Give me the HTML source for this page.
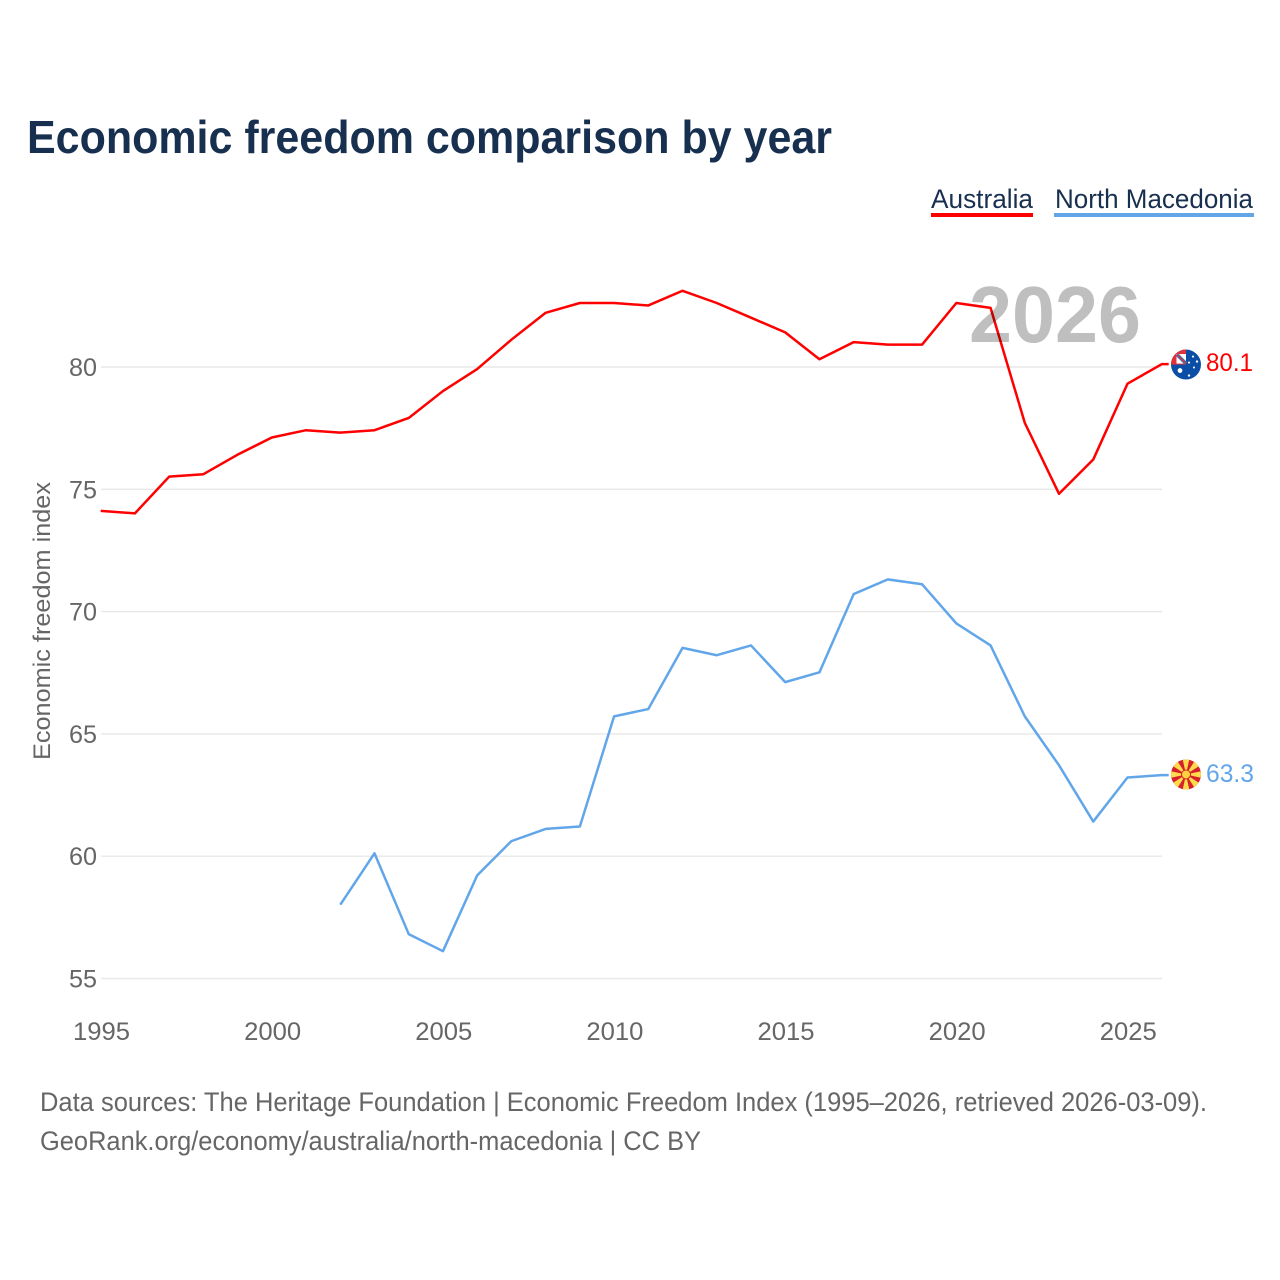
<!DOCTYPE html>
<html lang="en">
<head>
<meta charset="utf-8">
<title>Economic freedom comparison by year</title>
<style>
html,body{margin:0;padding:0;background:#fff;}
svg{display:block;font-family:"Liberation Sans",Arial,sans-serif;}
</style>
</head>
<body>
<svg id="chart" width="1280" height="1280" viewBox="0 0 1280 1280" xmlns="http://www.w3.org/2000/svg">
<defs>
<clipPath id="flag-clip-au"><circle cx="0" cy="0" r="15"/></clipPath>
<clipPath id="flag-clip-mk"><circle cx="0" cy="0" r="15"/></clipPath>
</defs>
<rect width="1280" height="1280" fill="#fff"/>
<text x="27" y="153" font-size="46" font-weight="700" fill="#18304f" textLength="805" lengthAdjust="spacingAndGlyphs">Economic freedom comparison by year</text>
<g id="grid"></g>
<g id="yticks"></g>
<g id="xticks"></g>
<text transform="translate(50,760) rotate(-90)" font-size="24" fill="#666" textLength="278" lengthAdjust="spacingAndGlyphs">Economic freedom index</text>
<g id="series"></g>
<text x="969" y="342" font-size="80" font-weight="700" fill="#000" fill-opacity="0.25" textLength="172" lengthAdjust="spacingAndGlyphs">2026</text>
<g>
<text x="931" y="208" font-size="27" fill="#18304f" textLength="102" lengthAdjust="spacingAndGlyphs">Australia</text>
<rect x="931" y="213" width="102" height="4" fill="#ff0000"/>
</g>
<g>
<text x="1055" y="208" font-size="27" fill="#18304f" textLength="198" lengthAdjust="spacingAndGlyphs">North Macedonia</text>
<rect x="1054" y="213" width="200" height="4" fill="#62a6ea"/>
</g>
<g id="flag-au" clip-path="url(#flag-clip-au)">
<rect x="-15" y="-15" width="30" height="30" fill="#0a4ea6"/>
<rect x="-15" y="-15" width="15" height="15" fill="#e0303a"/>
<rect x="-9.5" y="-10.5" width="9.5" height="9.5" fill="#fff"/>
<path d="M-9,-10L0,-1" stroke="#3f6fb5" stroke-width="3.5"/>
<path d="M-9,-10L0,-1" stroke="#e0303a" stroke-width="1.2"/>
<circle cx="-6" cy="6" r="2.4" fill="#fff"/>
<circle cx="3" cy="-2" r="1.1" fill="#fff"/>
<circle cx="11" cy="-3" r="1.2" fill="#fff"/>
<circle cx="8" cy="3" r="1" fill="#fff"/>
<circle cx="3" cy="11" r="1.2" fill="#fff"/>
<circle cx="7" cy="-8" r="1.1" fill="#fff"/>
</g>
<g id="flag-mk" clip-path="url(#flag-clip-mk)">
<rect x="-15" y="-15" width="30" height="30" fill="#d6202a"/>
<path d="M-3.5,-16H3.5L0,0ZM-3.5,16H3.5L0,0ZM-16,-3.5V3.5L0,0ZM16,-3.5V3.5L0,0Z" fill="#ffdb4d"/>
<path d="M-14,-9L-9,-14L0,0ZM14,9L9,14L0,0ZM14,-9L9,-14L0,0ZM-14,9L-9,14L0,0Z" fill="#ffdb4d"/>
<circle cx="0" cy="0" r="5" fill="#d6202a"/>
<circle cx="0" cy="0" r="4" fill="#ffd23f"/>
</g>
<text id="val-au" x="1206" y="371" font-size="25" fill="#ff0000" textLength="47" lengthAdjust="spacingAndGlyphs"></text>
<text id="val-mk" x="1206" y="782" font-size="25" fill="#62a6ea" textLength="48" lengthAdjust="spacingAndGlyphs"></text>
<text x="40" y="1111" font-size="27" fill="#666" textLength="1167" lengthAdjust="spacingAndGlyphs">Data sources: The Heritage Foundation | Economic Freedom Index (1995–2026, retrieved 2026-03-09).</text>
<text x="40" y="1150" font-size="27" fill="#666" textLength="661" lengthAdjust="spacingAndGlyphs">GeoRank.org/economy/australia/north-macedonia | CC BY</text>
</svg>
<script>
const auYears = [1995,1996,1997,1998,1999,2000,2001,2002,2003,2004,2005,2006,2007,2008,2009,2010,2011,2012,2013,2014,2015,2016,2017,2018,2019,2020,2021,2022,2023,2024,2025,2026];
const auValues = [74.1,74.0,75.5,75.6,76.4,77.1,77.4,77.3,77.4,77.9,79.0,79.9,81.1,82.2,82.6,82.6,82.5,83.1,82.6,82.0,81.4,80.3,81.0,80.9,80.9,82.6,82.4,77.7,74.8,76.2,79.3,80.1];
const mkYears = [2002,2003,2004,2005,2006,2007,2008,2009,2010,2011,2012,2013,2014,2015,2016,2017,2018,2019,2020,2021,2022,2023,2024,2025,2026];
const mkValues = [58.0,60.1,56.8,56.1,59.2,60.6,61.1,61.2,65.7,66.0,68.5,68.2,68.6,67.1,67.5,70.7,71.3,71.1,69.5,68.6,65.7,63.7,61.4,63.2,63.3];
const yTickValues = [55,60,65,70,75,80];
const xTickValues = [1995,2000,2005,2010,2015,2020,2025];

const SVGNS = 'http://www.w3.org/2000/svg';
function xScale(year){ return 100.7 + (year - 1995) * (1161.7 - 100.7) / 31; }
function yScale(value){ return 366.6 + (80 - value) * 24.46; }
function make(tag, parent, attrs){
  const el = document.createElementNS(SVGNS, tag);
  for (const k in attrs) el.setAttribute(k, attrs[k]);
  parent.appendChild(el);
  return el;
}
const grid = document.getElementById('grid');
const yticks = document.getElementById('yticks');
const xticks = document.getElementById('xticks');
const series = document.getElementById('series');

yTickValues.forEach(function(v){
  const line = make('line', grid, {x1:101, x2:1162, y1:yScale(v)+0.4, y2:yScale(v)+0.4, stroke:'#e8e8e8', 'stroke-width':1.4});
  
  
  const label = make('text', yticks, {x:69, y:yScale(v)+9.4, 'font-size':25, fill:'#666', textLength:28, lengthAdjust:'spacingAndGlyphs'});
  label.textContent = String(v);
  
  
});
xTickValues.forEach(function(v){
  const label = make('text', xticks, {x:xScale(v)-27.7, y:1040, 'font-size':25, fill:'#666', textLength:57, lengthAdjust:'spacingAndGlyphs'});
  label.textContent = String(v);
  
  
});
function pointsFor(years, values){
  const pts = years.map(function(y, i){ return xScale(y).toFixed(2) + ',' + yScale(values[i]).toFixed(2); });
  pts.push((xScale(years[years.length-1]) + 7).toFixed(2) + ',' + yScale(values[values.length-1]).toFixed(2));
  return pts.join(' ');
}
const auLine = make('polyline', series, {points:pointsFor(auYears, auValues), fill:'none', stroke:'#ff0000', 'stroke-width':2.5, 'stroke-linejoin':'round'});


const mkLine = make('polyline', series, {points:pointsFor(mkYears, mkValues), fill:'none', stroke:'#62a6ea', 'stroke-width':2.5, 'stroke-linejoin':'round'});



const auLast = auValues[auValues.length-1];
const mkLast = mkValues[mkValues.length-1];
document.getElementById('flag-au').setAttribute('transform', 'translate(1186,' + (yScale(auLast)+0.4).toFixed(2) + ')');
document.getElementById('flag-mk').setAttribute('transform', 'translate(1186,' + (yScale(mkLast)-0.6).toFixed(2) + ')');
const valAu = document.getElementById('val-au');
valAu.textContent = auLast.toFixed(1);
valAu.setAttribute('y', (yScale(auLast)+7).toFixed(2));
const valMk = document.getElementById('val-mk');
valMk.textContent = mkLast.toFixed(1);
valMk.setAttribute('y', (yScale(mkLast)+7).toFixed(2));
</script>
</body>
</html>
